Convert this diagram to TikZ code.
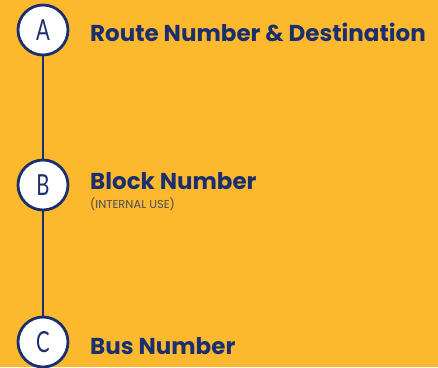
\documentclass[tikz,border=0pt]{standalone}
\usepackage{fontspec}
\usepackage{graphicx}
\setmainfont{Poppins}
\newfontfamily\letterfont{Lato}
\definecolor{bg}{HTML}{FDB92E}
\definecolor{navy}{HTML}{1B2F6E}
\definecolor{subc}{HTML}{4A4A5A}
\begin{document}
\begin{tikzpicture}[x=1pt,y=-1pt,
  stop/.style={circle,draw=navy,fill=white,line width=2.8pt,minimum size=50pt,inner sep=0pt,text=navy,font=\letterfont\fontsize{29}{29}\selectfont},
  title/.style={anchor=base west,text=navy,inner sep=0pt,font=\fontsize{23}{26}\selectfont\bfseries},
  sub/.style={anchor=base west,text=subc,inner sep=0pt,font=\fontsize{11.5}{12}\selectfont},
  link/.style={draw=navy,line width=2.8pt}]
\fill[bg] (0,0) rectangle (438,367);
\useasboundingbox (0,0) rectangle (438,367);
\node[stop] (A) at (43,30) {\scalebox{0.7}[1]{A}};
\node[stop] (B) at (43,185) {\scalebox{0.7}[1]{B}};
\node[stop] (C) at (43,342) {\scalebox{0.7}[1]{C}};
\draw[link] (A.south) -- (B.north);
\draw[link] (B.south) -- (C.north);
\node[title] (tA) at (90,41) {Route Number \& Destination};
\node[title] (tB) at (90,189) {Block Number};
\node[sub] (sB) at (90,208) {(INTERNAL USE)};
\node[title] (tC) at (90,354) {Bus Number};
\end{tikzpicture}
\end{document}
